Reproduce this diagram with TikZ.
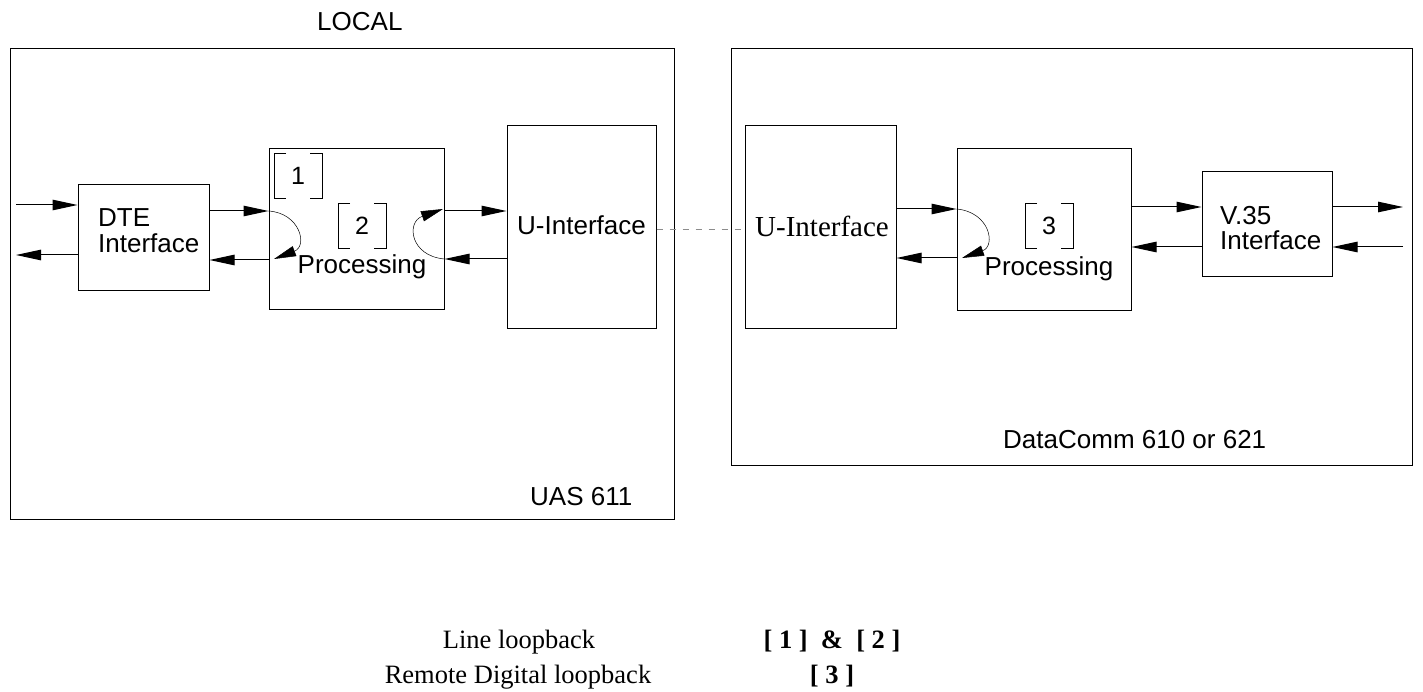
\documentclass[tikz,border=0pt]{standalone}
\usepackage{fontspec}
\setmainfont{Liberation Sans}
\newfontfamily\timesface{Liberation Serif}
\usetikzlibrary{arrows.meta}

\tikzset{
  blk/.style={draw, line width=1pt, inner sep=0pt},
  lbl/.style={font=\fontsize{26}{27}\selectfont, inner sep=0pt, anchor=base west},
  clbl/.style={lbl, anchor=base},
  sig/.style={line width=1pt, -{Triangle[length=25pt,width=10.5pt]}},
  lpb/.style={line width=0.5pt, -{Triangle[length=22pt,width=10.5pt]}},
  link/.style={line width=1pt, draw=black!45, dash pattern=on 6pt off 7pt},
  legend/.style={font=\timesface\fontsize{26.5}{28}\selectfont, inner sep=0pt, anchor=base},
  legendb/.style={legend, font=\timesface\bfseries\fontsize{26.5}{28}\selectfont},
  pics/brk/.style={code={
    \draw[line width=0.8pt] (-12,-22.5) -- (-24,-22.5) -- (-24,22.5) -- (-12,22.5);
    \draw[line width=0.8pt] (12,-22.5) -- (24,-22.5) -- (24,22.5) -- (12,22.5);
    \node[font=\fontsize{25}{25}\selectfont, inner sep=0pt] (-n) at (0,0) {#1};
  }}
}

\begin{document}
\begin{tikzpicture}[x=1pt, y=-1pt]
\useasboundingbox (0,0) rectangle (1423,692);

% enclosures
\node[blk, minimum width=664, minimum height=470] (local) at (342,284) {};
\node[blk, minimum width=681, minimum height=416] (remote) at (1071.5,257) {};
\node[lbl] (localtxt) at (317,31) {LOCAL};
\node[lbl] (uastxt) at (530,505) {UAS 611};
\node[lbl] (dctxt) at (1003,448) {DataComm 610 or 621};

% functional blocks
\node[blk, minimum width=131, minimum height=106] (dte) at (143.5,238) {};
\node[blk, minimum width=175, minimum height=161] (pl) at (356.5,229.5) {};
\node[blk, minimum width=149, minimum height=202] (ul) at (581.5,227) {};
\node[blk, minimum width=151, minimum height=202] (ur) at (820.5,227) {};
\node[blk, minimum width=174, minimum height=162] (pr) at (1044,230) {};
\node[blk, minimum width=130, minimum height=105] (v35) at (1267,224.5) {};

% block labels
\node[lbl] (dteA) at (98,227) {DTE};
\node[lbl] (dteB) at (98,253) {Interface};
\node[clbl] (pltxt) at (362,274) {Processing};
\node[clbl] (ultxt) at (581.5,235) {U-Interface};
\node[clbl, font=\timesface\fontsize{29}{30}\selectfont] (urtxt) at (822,237) {U-Interface};
\node[clbl] (prtxt) at (1049,276) {Processing};
\node[lbl] (v35A) at (1220,225) {V.35};
\node[lbl] (v35B) at (1220,250) {Interface};

% loopback points
\pic (b1) at (298,175.5) {brk=1};
\pic (b2) at (362,225.5) {brk=2};
\pic (b3) at (1049,226) {brk=3};

% line ends
\coordinate (inL) at (16,205);
\coordinate (outL) at (16,255);
\coordinate (outR) at (1403,207);
\coordinate (inR) at (1403,247);

% local unit signal paths
\draw[sig] (inL) -- (dte.west |- inL);
\draw[sig] (dte.west |- outL) -- (outL);
\draw[sig] (dte.east |- 0,211) -- (pl.west |- 0,211);
\draw[sig] (pl.west |- 0,260) -- (dte.east |- 0,260);
\draw[sig] (pl.east |- 0,211) -- (ul.west |- 0,211);
\draw[sig] (ul.west |- 0,259) -- (pl.east |- 0,259);
\draw[lpb] (pl.west |- 0,211) .. controls (300,213) and (308,246) .. (274,259);
\draw[lpb] (pl.east |- 0,259) .. controls (410,256) and (406,222) .. (443,209);

% line between the units
\draw[link] (ul.east |- 0,230) -- (ur.west |- 0,230);

% remote unit signal paths
\draw[sig] (ur.east |- 0,209) -- (pr.west |- 0,209);
\draw[sig] (pr.west |- 0,258) -- (ur.east |- 0,258);
\draw[lpb] (pr.west |- 0,209) .. controls (990,212) and (996,246) .. (962,258);
\draw[sig] (pr.east |- outR) -- (v35.west |- outR);
\draw[sig] (v35.west |- inR) -- (pr.east |- inR);
\draw[sig] (v35.east |- outR) -- (outR);
\draw[sig] (inR) -- (v35.east |- inR);

% legend
\node[legend] (lg1) at (519,648) {Line loopback};
\node[legendb] (lg1b) at (832,648) {[ 1 ]\ \ \&\ \ [ 2 ]};
\node[legend] (lg2) at (518,683) {Remote Digital loopback};
\node[legendb] (lg2b) at (832,683) {[ 3 ]};
\end{tikzpicture}
\end{document}
